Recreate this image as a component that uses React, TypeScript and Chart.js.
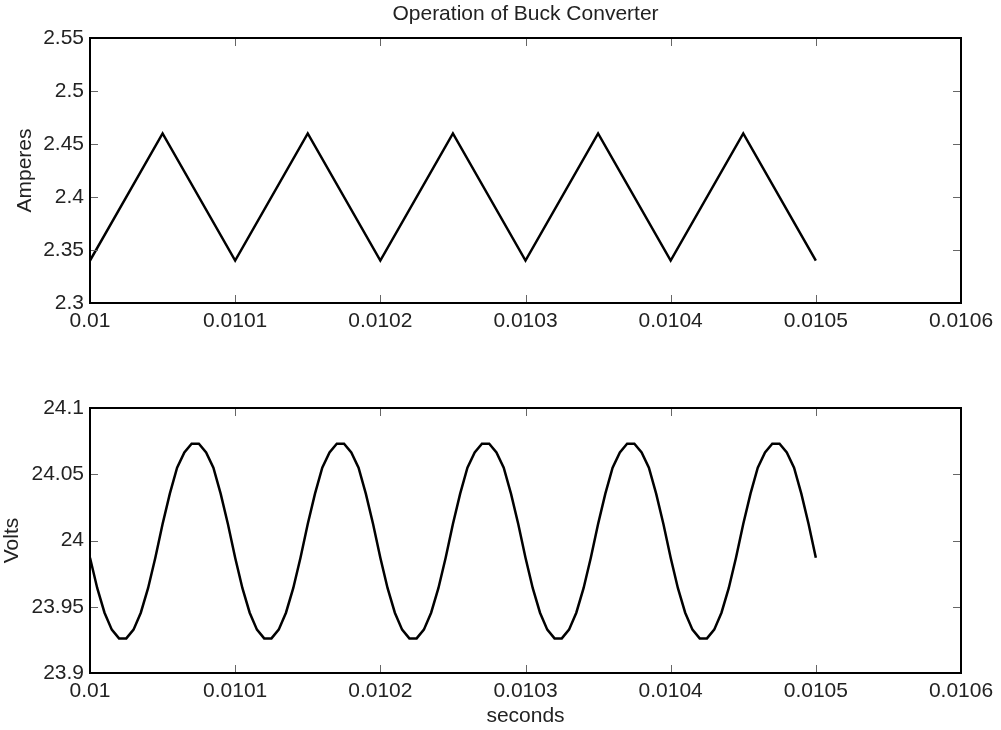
import React, { useEffect, useRef } from "react";
import { Chart, registerables } from "chart.js";

Chart.register(...registerables);

const titleText = "Operation of Buck Converter";
const xAxisTitle = "seconds";
const currentAxisTitle = "Amperes";
const voltageAxisTitle = "Volts";

const xTicks = [0.01, 0.0101, 0.0102, 0.0103, 0.0104, 0.0105, 0.0106];
const xTickLabels = ["0.01", "0.0101", "0.0102", "0.0103", "0.0104", "0.0105", "0.0106"];

const currentTicks = [2.3, 2.35, 2.4, 2.45, 2.5, 2.55];
const currentTickLabels = ["2.3", "2.35", "2.4", "2.45", "2.5", "2.55"];

const voltageTicks = [23.9, 23.95, 24, 24.05, 24.1];
const voltageTickLabels = ["23.9", "23.95", "24", "24.05", "24.1"];

// inductor current (triangle vertices)
const currentTime = [
  0.01, 0.01005, 0.0101, 0.01015, 0.0102, 0.01025, 0.0103, 0.01035, 0.0104, 0.01045, 0.0105,
];
const currentValues = [
  2.34, 2.46, 2.34, 2.46, 2.34, 2.46, 2.34, 2.46, 2.34, 2.46, 2.34,
];

// output voltage samples
const voltageTime = [
  0.01, 0.010005, 0.01001, 0.010015, 0.01002, 0.010025, 0.01003, 0.010035, 0.01004, 0.010045,
  0.01005, 0.010055, 0.01006, 0.010065, 0.01007, 0.010075, 0.01008, 0.010085, 0.01009, 0.010095,
  0.0101, 0.010105, 0.01011, 0.010115, 0.01012, 0.010125, 0.01013, 0.010135, 0.01014, 0.010145,
  0.01015, 0.010155, 0.01016, 0.010165, 0.01017, 0.010175, 0.01018, 0.010185, 0.01019, 0.010195,
  0.0102, 0.010205, 0.01021, 0.010215, 0.01022, 0.010225, 0.01023, 0.010235, 0.01024, 0.010245,
  0.01025, 0.010255, 0.01026, 0.010265, 0.01027, 0.010275, 0.01028, 0.010285, 0.01029, 0.010295,
  0.0103, 0.010305, 0.01031, 0.010315, 0.01032, 0.010325, 0.01033, 0.010335, 0.01034, 0.010345,
  0.01035, 0.010355, 0.01036, 0.010365, 0.01037, 0.010375, 0.01038, 0.010385, 0.01039, 0.010395,
  0.0104, 0.010405, 0.01041, 0.010415, 0.01042, 0.010425, 0.01043, 0.010435, 0.01044, 0.010445,
  0.01045, 0.010455, 0.01046, 0.010465, 0.01047, 0.010475, 0.01048, 0.010485, 0.01049, 0.010495,
  0.0105,
];
const voltageValues = [
  23.987, 23.964, 23.9455, 23.9327, 23.9261, 23.9261, 23.9327, 23.9455, 23.964, 23.987,
  24.0124, 24.0354, 24.055, 24.0665, 24.073, 24.073, 24.0665, 24.055, 24.0354, 24.0124,
  23.987, 23.964, 23.9455, 23.9327, 23.9261, 23.9261, 23.9327, 23.9455, 23.964, 23.987,
  24.0124, 24.0354, 24.055, 24.0665, 24.073, 24.073, 24.0665, 24.055, 24.0354, 24.0124,
  23.987, 23.964, 23.9455, 23.9327, 23.9261, 23.9261, 23.9327, 23.9455, 23.964, 23.987,
  24.0124, 24.0354, 24.055, 24.0665, 24.073, 24.073, 24.0665, 24.055, 24.0354, 24.0124,
  23.987, 23.964, 23.9455, 23.9327, 23.9261, 23.9261, 23.9327, 23.9455, 23.964, 23.987,
  24.0124, 24.0354, 24.055, 24.0665, 24.073, 24.073, 24.0665, 24.055, 24.0354, 24.0124,
  23.987, 23.964, 23.9455, 23.9327, 23.9261, 23.9261, 23.9327, 23.9455, 23.964, 23.987,
  24.0124, 24.0354, 24.055, 24.0665, 24.073, 24.073, 24.0665, 24.055, 24.0354, 24.0124,
  23.987,
];

const FONT_FAMILY = "'Liberation Sans', Arial, Helvetica, sans-serif";
const TEXT_COLOR = "#222222";
const FONT_SIZE = 21;
const tickFont = { family: FONT_FAMILY, size: FONT_SIZE, weight: "normal" as const };

const matlabAxesPlugin = {
  id: "matlabAxes",
  afterDatasetsDraw(chart: any) {
    const { ctx, chartArea: a, scales } = chart;
    const xs = scales.x;
    const ys = scales.y;
    const tl = 8;
    ctx.save();
    ctx.strokeStyle = "#666666";
    ctx.lineWidth = 1;
    ctx.beginPath();
    xs.ticks.forEach((t: any) => {
      const px = Math.round(xs.getPixelForValue(t.value)) + 0.5;
      if (px <= a.left + 1 || px >= a.right - 1) return;
      ctx.moveTo(px, a.bottom);
      ctx.lineTo(px, a.bottom - tl);
      ctx.moveTo(px, a.top);
      ctx.lineTo(px, a.top + tl);
    });
    ys.ticks.forEach((t: any) => {
      const py = Math.round(ys.getPixelForValue(t.value)) + 0.5;
      if (py <= a.top + 1 || py >= a.bottom - 1) return;
      ctx.moveTo(a.left, py);
      ctx.lineTo(a.left + tl, py);
      ctx.moveTo(a.right, py);
      ctx.lineTo(a.right - tl, py);
    });
    ctx.stroke();
    ctx.strokeStyle = "#000000";
    ctx.lineWidth = 2;
    ctx.strokeRect(a.left, a.top, a.right - a.left, a.bottom - a.top);
    ctx.restore();
  },
};

const figureTitlePlugin = {
  id: "figureTitle",
  afterDraw(chart: any) {
    const opts = chart.options.plugins.figureTitle;
    if (!opts || !opts.text) return;
    const { ctx, chartArea: a } = chart;
    ctx.save();
    ctx.font = `${FONT_SIZE}px ${FONT_FAMILY}`;
    ctx.fillStyle = TEXT_COLOR;
    ctx.textAlign = "center";
    ctx.textBaseline = "middle";
    ctx.fillText(opts.text, (a.left + a.right) / 2, opts.y);
    ctx.restore();
  },
};

function buildConfig(params: {
  time: number[];
  values: number[];
  yMin: number;
  yMax: number;
  yTicks: number[];
  yTickLabels: string[];
  yTitle: string;
  yTitlePad: number;
  topPad: number;
  xAxisHeight: number;
  xTitle?: string;
  figTitle?: string;
}) {
  return {
    type: "line" as const,
    data: {
      datasets: [
        {
          data: params.time.map((t, i) => ({ x: t, y: params.values[i] })),
          borderColor: "#000000",
          borderWidth: 2.5,
          pointRadius: 0,
          tension: 0,
          fill: false,
        },
      ],
    },
    options: {
      animation: false as const,
      responsive: false,
      events: [],
      layout: { padding: { left: 0, right: 40, top: params.topPad, bottom: 0 } },
      plugins: {
        legend: { display: false },
        tooltip: { enabled: false },
        figureTitle: params.figTitle ? { text: params.figTitle, y: 14 } : {},
      },
      scales: {
        x: {
          type: "linear" as const,
          min: 0.01,
          max: 0.0106,
          afterBuildTicks: (s: any) => {
            s.ticks = xTicks.map((v) => ({ value: v }));
          },
          afterFit: (s: any) => {
            s.height = params.xAxisHeight;
          },
          ticks: {
            callback: (_v: any, i: number) => xTickLabels[i],
            font: tickFont,
            color: TEXT_COLOR,
            padding: 6,
            maxRotation: 0,
            autoSkip: false,
          },
          grid: { display: false, drawTicks: false },
          border: { display: false },
          title: params.xTitle
            ? {
                display: true,
                text: params.xTitle,
                font: tickFont,
                color: TEXT_COLOR,
                padding: { top: 0, bottom: 1 },
              }
            : { display: false },
        },
        y: {
          type: "linear" as const,
          min: params.yMin,
          max: params.yMax,
          afterBuildTicks: (s: any) => {
            s.ticks = params.yTicks.map((v) => ({ value: v }));
          },
          afterFit: (s: any) => {
            s.width = 90;
          },
          ticks: {
            callback: (_v: any, i: number) => params.yTickLabels[i],
            font: tickFont,
            color: TEXT_COLOR,
            padding: 6,
            autoSkip: false,
          },
          grid: { display: false, drawTicks: false },
          border: { display: false },
          title: {
            display: true,
            text: params.yTitle,
            font: tickFont,
            color: TEXT_COLOR,
            padding: { top: params.yTitlePad, bottom: 0 },
          },
        },
      },
    },
    plugins: [matlabAxesPlugin, figureTitlePlugin],
  };
}

export default function App() {
  const topRef = useRef<HTMLCanvasElement | null>(null);
  const bottomRef = useRef<HTMLCanvasElement | null>(null);

  useEffect(() => {
    const charts: Chart[] = [];
    if (topRef.current) {
      charts.push(
        new Chart(
          topRef.current,
          buildConfig({
            time: currentTime,
            values: currentValues,
            yMin: 2.3,
            yMax: 2.55,
            yTicks: currentTicks,
            yTickLabels: currentTickLabels,
            yTitle: currentAxisTitle,
            yTitlePad: 13,
            topPad: 38,
            xAxisHeight: 62,
            figTitle: titleText,
          }) as any
        )
      );
    }
    if (bottomRef.current) {
      charts.push(
        new Chart(
          bottomRef.current,
          buildConfig({
            time: voltageTime,
            values: voltageValues,
            yMin: 23.9,
            yMax: 24.1,
            yTicks: voltageTicks,
            yTickLabels: voltageTickLabels,
            yTitle: voltageAxisTitle,
            yTitlePad: 0,
            topPad: 43,
            xAxisHeight: 57,
            xTitle: xAxisTitle,
          }) as any
        )
      );
    }
    return () => charts.forEach((c) => c.destroy());
  }, []);

  return (
    <div
      style={{
        position: "absolute",
        left: 0,
        top: 0,
        width: 1001,
        height: 730,
        background: "#ffffff",
      }}
    >
      <canvas ref={topRef} width={1001} height={365} style={{ display: "block", width: 1001, height: 365 }} />
      <canvas ref={bottomRef} width={1001} height={365} style={{ display: "block", width: 1001, height: 365 }} />
    </div>
  );
}
